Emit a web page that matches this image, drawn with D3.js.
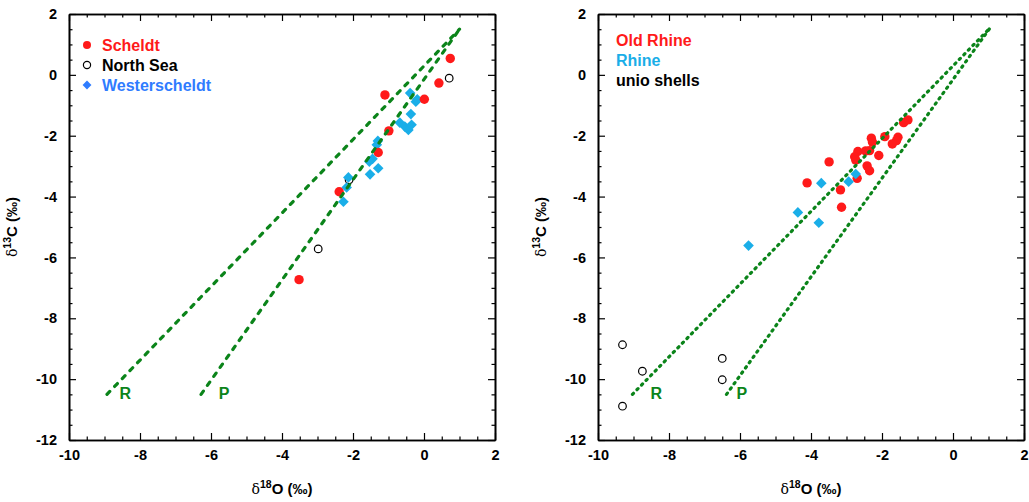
<!DOCTYPE html>
<html>
<head>
<meta charset="utf-8">
<script src="https://cdn.jsdelivr.net/npm/d3@7"></script>
<style>
body { margin: 0; background: #fff; }
svg text { font-family: "Liberation Sans", Arial, sans-serif; font-weight: bold; }
</style>
</head>
<body>
<svg id="chart" width="1029" height="502"></svg>
<script>
// left panel data (d18O, d13C)
const scheldtX = [0.74, 0.42, 0.01, -1.10, -0.99, -1.29, -2.39, -3.52];
const scheldtY = [0.54, -0.27, -0.80, -0.66, -1.84, -2.55, -3.84, -6.73];
const northSeaX = [0.71, -2.98, -2.11];
const northSeaY = [-0.11, -5.72, -3.45];
const westX = [-0.39, -0.23, -0.19, -0.37, -0.68, -0.54, -0.44, -0.35, -1.30, -1.33, -1.45, -1.29, -1.52, -1.54, -2.13, -2.18, -2.27];
const westY = [-0.60, -0.88, -0.80, -1.29, -1.57, -1.70, -1.81, -1.64, -2.17, -2.30, -2.76, -3.07, -3.27, -2.85, -3.37, -3.70, -4.17];

// right panel data
const oldRhineX = [-1.27, -1.39, -1.92, -2.30, -2.27, -1.55, -1.59, -1.71, -2.68, -2.46, -2.35, -2.09, -2.77, -2.74, -2.42, -2.35, -2.70, -3.17, -3.14, -3.49, -4.11];
const oldRhineY = [-1.48, -1.57, -2.03, -2.08, -2.21, -2.05, -2.16, -2.27, -2.52, -2.50, -2.49, -2.65, -2.69, -2.80, -2.99, -3.15, -3.40, -3.78, -4.35, -2.86, -3.55];
const rhineX = [-2.74, -2.94, -3.71, -4.37, -3.78, -5.76];
const rhineY = [-3.26, -3.51, -3.56, -4.52, -4.86, -5.61];
const unioX = [-9.31, -8.75, -9.31, -6.50, -6.50];
const unioY = [-8.87, -9.74, -10.89, -9.32, -10.02];

// reference lines R and P: [x0, y0, x1, y1]
const lineRLeft = [-8.93, -10.5, 1.0, 1.5];
const linePLeft = [-6.28, -10.5, 1.0, 1.5];
const lineRRight = [-9.03, -10.5, 1.05, 1.55];
const linePRight = [-6.38, -10.5, 1.05, 1.55];

const xMajor = [-10, -8, -6, -4, -2, 0, 2];
const yMajor = [-12, -10, -8, -6, -4, -2, 0, 2];

const RED = "#ff1a1a";
const CYAN = "#1aaee8";
const LEGBLUE = "#2f7cff";
const GREEN = "#0b841a";

var svg = d3.select("#chart");

function zip(xs, ys) { return xs.map((x, i) => ({x: x, y: ys[i]})); }

function drawPanel(left, opt) {
    const top = 14, bottom = 440, w = 426;
    const x = d3.scaleLinear().domain([-10, 2]).range([left, left + w]);
    const y = d3.scaleLinear().domain([-12, 2]).range([bottom, top]);
    const g = svg.append("g");
    const xMinor = d3.range(-10, 2.01, 0.5).filter(v => v % 2 != 0);
    const yMinor = d3.range(-12, 2.01, 0.5).filter(v => v % 2 != 0);

    function ax(axisFn, scale, vals, size, tr, labels, pad) {
        const a = g.append("g").attr("transform", tr)
            .call(axisFn(scale).tickValues(vals).tickSize(size).tickSizeOuter(0)
                .tickPadding(pad || 3)
                .tickFormat(labels ? (d => String(d)) : ""));
        a.selectAll("path").attr("stroke", "#000").attr("stroke-width", 1.6);
        a.selectAll("line").attr("stroke", "#000").attr("stroke-width", 1.2);
        a.selectAll("text").attr("fill", "#000").style("font-size", "14.5px");
        return a;
    }
    // minor ticks
    ax(d3.axisBottom, x, xMinor, -3.5, `translate(0,${bottom})`, false);
    ax(d3.axisTop, x, xMinor, -3.5, `translate(0,${top})`, false);
    ax(d3.axisLeft, y, yMinor, -3.5, `translate(${left},0)`, false);
    ax(d3.axisRight, y, yMinor, -3.5, `translate(${left + w},0)`, false);
    // major ticks
    ax(d3.axisBottom, x, xMajor, -7, `translate(0,${bottom})`, true, 10);
    ax(d3.axisTop, x, xMajor, -7, `translate(0,${top})`, false);
    ax(d3.axisLeft, y, yMajor, -7, `translate(${left},0)`, true, 12);
    ax(d3.axisRight, y, yMajor, -7, `translate(${left + w},0)`, false);

    // axis titles
    const xt = g.append("text").attr("x", left + w / 2).attr("y", 494)
        .attr("text-anchor", "middle").style("font-size", "15px");
    xt.append("tspan").text("δ").style("font-weight", "normal").style("font-family", "DejaVu Serif, serif").style("font-size", "14px");
    xt.append("tspan").text("18").attr("dy", -6).style("font-size", "10.5px");
    xt.append("tspan").text("O (‰)").attr("dy", 6);

    const yt = g.append("text").attr("transform", `translate(${left - 52},${(top + bottom) / 2}) rotate(-90)`)
        .attr("text-anchor", "middle").style("font-size", "15px");
    yt.append("tspan").text("δ").style("font-weight", "normal").style("font-family", "DejaVu Serif, serif").style("font-size", "14px");
    yt.append("tspan").text("13").attr("dy", -6).style("font-size", "10.5px");
    yt.append("tspan").text("C (‰)").attr("dy", 6);

    // points
    opt.series.forEach(s => {
        const pts = zip(s.xs, s.ys);
        if (s.shape === "diamond") {
            g.selectAll(null).data(pts).enter().append("path")
                .attr("d", d3.symbol(d3.symbolDiamond2, 72))
                .attr("transform", d => `translate(${x(d.x)},${y(d.y)})`)
                .attr("fill", s.color);
        } else if (s.shape === "open") {
            g.selectAll(null).data(pts).enter().append("circle")
                .attr("cx", d => x(d.x)).attr("cy", d => y(d.y)).attr("r", 3.8)
                .attr("fill", "#fff").attr("stroke", "#000").attr("stroke-width", 1.2);
        } else {
            g.selectAll(null).data(pts).enter().append("circle")
                .attr("cx", d => x(d.x)).attr("cy", d => y(d.y)).attr("r", 4.7)
                .attr("fill", s.color);
        }
    });

    // R and P lines
    opt.lines.forEach(l => {
        g.append("line")
            .attr("x1", x(l[0])).attr("y1", y(l[1]))
            .attr("x2", x(l[2])).attr("y2", y(l[3]))
            .attr("stroke", GREEN).attr("stroke-width", 3.2)
            .attr("stroke-linecap", "round")
            .attr("stroke-dasharray", opt.dash);
    });
    opt.lineLabels.forEach(t => {
        g.append("text").attr("x", x(t.x)).attr("y", y(t.y))
            .attr("fill", GREEN).style("font-size", "16px").text(t.text);
    });

    // legend
    opt.legend.forEach((item, i) => {
        const ly = 45 + i * 20;
        if (item.shape) {
            const mx = left + 18;
            if (item.shape === "circle")
                g.append("circle").attr("cx", mx).attr("cy", ly).attr("r", 4).attr("fill", item.color);
            else if (item.shape === "open")
                g.append("circle").attr("cx", mx).attr("cy", ly).attr("r", 3.6).attr("fill", "#fff").attr("stroke", "#000").attr("stroke-width", 1.2);
            else
                g.append("path").attr("d", d3.symbol(d3.symbolDiamond2, 50)).attr("transform", `translate(${mx},${ly})`).attr("fill", item.color);
        }
        g.append("text").attr("x", left + (item.shape ? 33 : 18)).attr("y", ly + 6 - (item.shape ? 0 : 5))
            .attr("fill", item.color).style("font-size", "16px").text(item.text);
    });
}

drawPanel(69, {
    series: [
        {xs: northSeaX, ys: northSeaY, shape: "open"},
        {xs: westX, ys: westY, shape: "diamond", color: CYAN},
        {xs: scheldtX, ys: scheldtY, shape: "circle", color: RED}
    ],
    lines: [lineRLeft, linePLeft],
    dash: "4,7",
    lineLabels: [{x: -8.58, y: -10.65, text: "R"}, {x: -5.78, y: -10.65, text: "P"}],
    legend: [
        {text: "Scheldt", color: RED, shape: "circle"},
        {text: "North Sea", color: "#000", shape: "open"},
        {text: "Westerscheldt", color: LEGBLUE, shape: "diamond"}
    ]
});

drawPanel(598, {
    series: [
        {xs: unioX, ys: unioY, shape: "open"},
        {xs: oldRhineX, ys: oldRhineY, shape: "circle", color: RED},
        {xs: rhineX, ys: rhineY, shape: "diamond", color: CYAN}
    ],
    lines: [lineRRight, linePRight],
    dash: "1.5,5",
    lineLabels: [{x: -8.52, y: -10.65, text: "R"}, {x: -6.1, y: -10.65, text: "P"}],
    legend: [
        {text: "Old Rhine", color: RED},
        {text: "Rhine", color: CYAN},
        {text: "unio shells", color: "#000"}
    ]
});
</script>
</body>
</html>
